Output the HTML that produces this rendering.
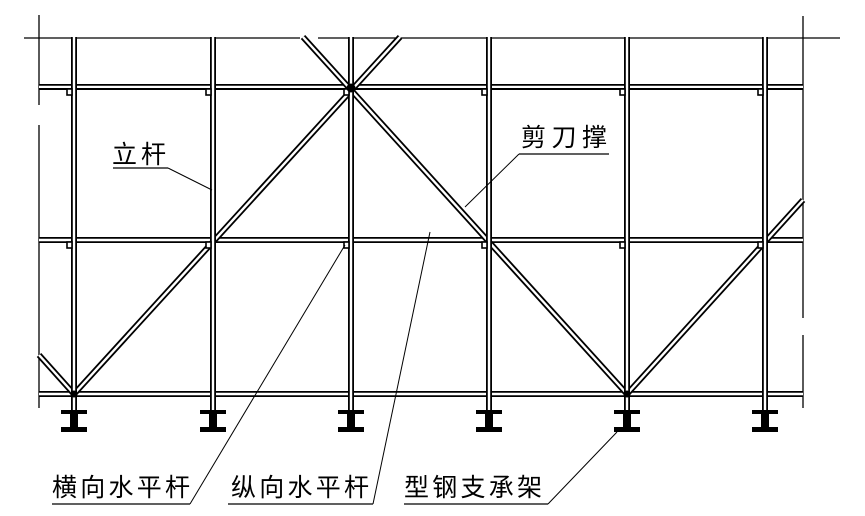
<!DOCTYPE html>
<html><head><meta charset="utf-8"><style>
html,body{margin:0;padding:0;background:#fff}
svg{display:block}
text{font-family:"Liberation Sans","Noto Sans CJK SC",sans-serif;font-size:25px;fill:#000}
</style></head><body>
<svg id="s" width="865" height="516" viewBox="0 0 865 516" xmlns="http://www.w3.org/2000/svg">
<g id="g" stroke="#000" fill="none"></g>
<text x="112" y="163" textLength="54">立杆</text>
<text x="521" y="146" textLength="86">剪刀撑</text>
<text x="52" y="496" textLength="142" letter-spacing="4">横向水平杆</text>
<text x="231" y="496" textLength="142" letter-spacing="4">纵向水平杆</text>
<text x="404" y="496" textLength="142" letter-spacing="4">型钢支承架</text>
</svg>
<script>
var g=document.getElementById('g'),h='';
function L(x1,y1,x2,y2,w,c){h+='<line x1="'+x1+'" y1="'+y1+'" x2="'+x2+'" y2="'+y2+'" stroke-width="'+(w||1.3)+'" stroke="'+(c||'#000')+'"/>';}
function D(x1,y1,x2,y2){L(x1,y1,x2,y2,6);L(x1,y1,x2,y2,2.4,'#fff');}
L(24,38,300,38);L(318,38,840,38);L(39,15,39,105);L(39,125,39,408);
L(803,16,803,318);L(803,335,803,408);
D(39,87,803,87);L(39,89,803,89,2);
D(39,240,803,240);
D(39,394,803,394);
var xs=[74,213,351,489,627,765];
D(303,37,627,394);D(400,37,74,394);D(39,355,74,394);
D(627,394,803,200);
xs.forEach(function(x){D(x,37,x,420);});
xs.forEach(function(x){[[89,96],[242,249]].forEach(function(r){h+='<rect x="'+(x-7)+'" y="'+r[0]+'" width="5" height="6" stroke-width="1.6" fill="#fff"/>';});});
xs.forEach(function(x){h+='<path d="M'+(x-13)+' 410 h26 v4 h-9 v13 h9 v5 h-26 v-5 h9 v-13 h-9z" fill="#000" stroke="none"/>';});
h+='<circle cx="351" cy="88" r="4" fill="#000"/><circle cx="74" cy="394" r="3" fill="#000"/><circle cx="627" cy="394" r="3" fill="#000"/>';
L(113,168,168,168);L(168,168,212,190,1);
L(519,154,609,154);L(519,154,465,207,1);
L(52,504,190,504);L(190,504,345,245,1);
L(228,504,373,504);L(373,504,430,232,1);
L(404,504,548,504);L(548,504,617,432,1);
g.innerHTML=h;
</script>
</body></html>
